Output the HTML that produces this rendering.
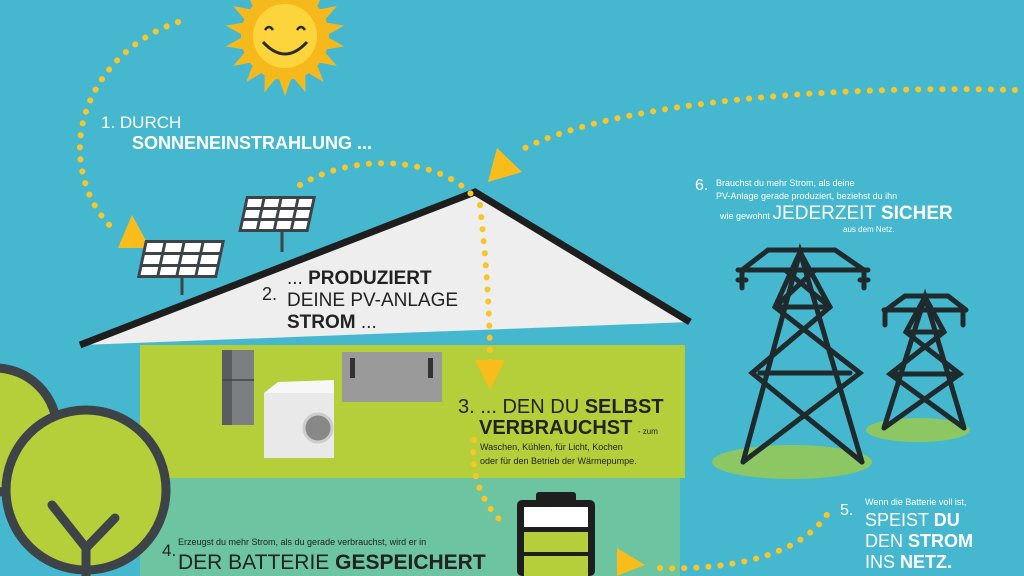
<!DOCTYPE html>
<html><head><meta charset="utf-8"><style>
html,body{margin:0;padding:0;width:1024px;height:576px;overflow:hidden;background:#45b8d0}
svg{display:block}
text{font-family:"Liberation Sans",sans-serif}
</style></head><body>
<svg width="1024" height="576" viewBox="0 0 1024 576" xmlns="http://www.w3.org/2000/svg">
<rect width="1024" height="576" fill="#45b8d0"/>
<rect x="140" y="345" width="545" height="133" fill="#b5cf3a"/>
<rect x="140" y="478" width="540" height="98" fill="#6cc4a0"/>
<polygon points="80,345 475,192 690,322" fill="#eeeeee"/>
<polyline points="80,345 475,192 690,322" fill="none" stroke="#1e1e1e" stroke-width="7"/>
<!-- trees -->
<circle cx="-5" cy="430" r="62" fill="#b5cf3a" stroke="#3d4347" stroke-width="9"/>
<circle cx="86" cy="490" r="80" fill="#b5cf3a" stroke="#3d4347" stroke-width="9"/>
<path d="M86,576 L86,548 L52,505 M86,548 L115,518" fill="none" stroke="#3d4347" stroke-width="9" stroke-linecap="round"/>
<!-- sun -->
<g transform="translate(285,36)">
<g fill="#f6b91c">
<circle r="44"/>
<polygon points="-7,-40 0,-60 7,-40" transform="rotate(0)"/><polygon points="-7,-40 0,-60 7,-40" transform="rotate(20)"/><polygon points="-7,-40 0,-60 7,-40" transform="rotate(40)"/><polygon points="-7,-40 0,-60 7,-40" transform="rotate(60)"/><polygon points="-7,-40 0,-60 7,-40" transform="rotate(80)"/><polygon points="-7,-40 0,-60 7,-40" transform="rotate(100)"/><polygon points="-7,-40 0,-60 7,-40" transform="rotate(120)"/><polygon points="-7,-40 0,-60 7,-40" transform="rotate(140)"/><polygon points="-7,-40 0,-60 7,-40" transform="rotate(160)"/><polygon points="-7,-40 0,-60 7,-40" transform="rotate(180)"/><polygon points="-7,-40 0,-60 7,-40" transform="rotate(200)"/><polygon points="-7,-40 0,-60 7,-40" transform="rotate(220)"/><polygon points="-7,-40 0,-60 7,-40" transform="rotate(240)"/><polygon points="-7,-40 0,-60 7,-40" transform="rotate(260)"/><polygon points="-7,-40 0,-60 7,-40" transform="rotate(280)"/><polygon points="-7,-40 0,-60 7,-40" transform="rotate(300)"/><polygon points="-7,-40 0,-60 7,-40" transform="rotate(320)"/><polygon points="-7,-40 0,-60 7,-40" transform="rotate(340)"/>
</g>
<circle r="32" fill="#fcd43c"/>
<path d="M-20,-6 q4,-6 8,0 M12,-6 q4,-6 8,0" stroke="#2a2a2a" stroke-width="2.5" fill="none"/>
<path d="M-22,6 q22,24 44,0" stroke="#2a2a2a" stroke-width="3" fill="none"/>
</g>
<g fill="none" stroke="#f6c62a" stroke-width="6" stroke-linecap="round" stroke-dasharray="0.1 12">
<path d="M178,22 C110,45 70,110 82,170 C88,200 100,215 112,228"/>
<path d="M300,185 C360,150 440,160 472,195"/>
<path d="M480,205 C486,260 490,310 490,365"/>
<path d="M474,440 C470,470 480,500 500,520"/>
<path d="M660,568 C720,570 800,560 830,510"/>
<path d="M1015,90 C850,85 620,100 525,148"/>
</g>
<g fill="#f8bd1a">
<polygon points="132,215 118,248 150,248"/>
<polygon points="497,148 522,172 488,182"/>
<polygon points="475,360 505,360 490,390"/>
<polygon points="617,548 617,576 645,565"/>
</g>
<g stroke="#3d4347" stroke-width="3">
<line x1="282" y1="230" x2="282" y2="252"/>
<line x1="182" y1="270" x2="182" y2="295"/>
</g>
<g transform="translate(246,196) skewX(-12)">
<rect x="0" y="0" width="70" height="36" fill="#3d4347"/>
<g fill="#fff">
<rect x="3" y="3" width="14" height="8"/><rect x="20" y="3" width="14" height="8"/><rect x="37" y="3" width="14" height="8"/><rect x="54" y="3" width="13" height="8"/>
<rect x="3" y="14" width="14" height="8"/><rect x="20" y="14" width="14" height="8"/><rect x="37" y="14" width="14" height="8"/><rect x="54" y="14" width="13" height="8"/>
<rect x="3" y="25" width="14" height="8"/><rect x="20" y="25" width="14" height="8"/><rect x="37" y="25" width="14" height="8"/><rect x="54" y="25" width="13" height="8"/>
</g></g>
<g transform="translate(145,240) skewX(-12)">
<rect x="0" y="0" width="80" height="38" fill="#3d4347"/>
<g fill="#fff">
<rect x="3" y="3" width="16" height="9"/><rect x="22" y="3" width="16" height="9"/><rect x="41" y="3" width="16" height="9"/><rect x="60" y="3" width="17" height="9"/>
<rect x="3" y="15" width="16" height="9"/><rect x="22" y="15" width="16" height="9"/><rect x="41" y="15" width="16" height="9"/><rect x="60" y="15" width="17" height="9"/>
<rect x="3" y="27" width="16" height="8"/><rect x="22" y="27" width="16" height="8"/><rect x="41" y="27" width="16" height="8"/><rect x="60" y="27" width="17" height="8"/>
</g></g>
<rect x="222" y="350" width="32" height="75" fill="#7c7f82"/>
<rect x="222" y="350" width="10" height="75" fill="#5a5d60"/>
<line x1="222" y1="380" x2="254" y2="380" stroke="#444" stroke-width="1.5"/>
<rect x="264" y="393" width="70" height="65" fill="#e9e9e9"/>
<polygon points="264,393 278,382 334,380 334,393" fill="#f7f7f7"/>
<circle cx="318" cy="428" r="14" fill="#888" stroke="#ccc" stroke-width="3"/>
<rect x="342" y="352" width="100" height="50" fill="#9a9a9a"/>
<rect x="350" y="358" width="5" height="20" fill="#333"/>
<rect x="428" y="358" width="5" height="20" fill="#333"/>
<rect x="536" y="492" width="40" height="12" rx="3" fill="#1e1e1e"/>
<rect x="517" y="500" width="78" height="76" rx="5" fill="#1e1e1e"/>
<rect x="524" y="507" width="64" height="20" fill="#fff"/>
<rect x="524" y="532" width="64" height="20" fill="#b5cf3a"/>
<rect x="524" y="556" width="64" height="20" fill="#b5cf3a"/>
<ellipse cx="792" cy="462" rx="80" ry="17" fill="#8dc763"/>
<ellipse cx="918" cy="430" rx="52" ry="12" fill="#8dc763"/>
<g stroke="#1e2a2c" stroke-width="5" fill="none" stroke-linecap="round">
<path d="M743,462 L800,252 L862,462"/>
<path d="M742,270 L768,250 L835,250 L864,270 M738,270 L868,270"/>
<path d="M775,307 L830,307 M760,373 L850,373"/>
<path d="M800,252 L775,307 L860,373 L743,462 M800,252 L830,307 L752,373 L862,462 M785,270 L830,307 M815,270 L775,307"/>
<path d="M742,272 L742,288 M738,280 L746,280 M864,272 L864,288 M860,280 L868,280"/>
<path d="M884,428 L925,297 L964,428"/>
<path d="M886,310 L905,296 L948,296 L966,310 M884,310 L966,310"/>
<path d="M906,332 L944,332 M896,374 L954,374"/>
<path d="M925,297 L906,332 L960,374 L884,428 M925,297 L944,332 L890,374 L964,428"/>
<path d="M885,312 L885,325 M963,312 L963,325"/>
</g>
<text x="101" y="128" font-size="17" fill="#fff">1. DURCH</text>
<text x="132" y="149" font-size="18" font-weight="bold" fill="#fff">SONNENEINSTRAHLUNG ...</text>
<text x="262" y="300" font-size="18" fill="#222">2.</text>
<text x="287" y="284" font-size="19" fill="#222">... <tspan font-weight="bold">PRODUZIERT</tspan></text>
<text x="287" y="306" font-size="19" fill="#222">DEINE PV-ANLAGE</text>
<text x="287" y="328" font-size="19" fill="#222" font-weight="bold">STROM <tspan font-weight="normal">...</tspan></text>
<text x="458" y="413" font-size="20" fill="#222">3. ... DEN DU <tspan font-weight="bold">SELBST</tspan></text>
<text x="479" y="434" font-size="20" fill="#222" font-weight="bold">VERBRAUCHST <tspan font-size="8" font-weight="normal">- zum</tspan></text>
<text x="480" y="450" font-size="9" fill="#222">Waschen, Kühlen, für Licht, Kochen</text>
<text x="480" y="464" font-size="9" fill="#222">oder für den Betrieb der Wärmepumpe.</text>
<text x="162" y="556" font-size="17" fill="#222">4.</text>
<text x="178" y="545" font-size="9" fill="#222">Erzeugst du mehr Strom, als du gerade verbrauchst, wird er in</text>
<text x="178" y="569" font-size="21" fill="#222">DER BATTERIE <tspan font-weight="bold">GESPEICHERT</tspan></text>
<text x="695" y="190" font-size="16" fill="#fff">6.</text>
<text x="716" y="186" font-size="9" fill="#fff">Brauchst du mehr Strom, als deine</text>
<text x="716" y="199" font-size="9" fill="#fff">PV-Anlage gerade produziert, beziehst du ihn</text>
<text x="720" y="219" font-size="9" fill="#fff">wie gewohnt <tspan font-size="19">JEDERZEIT </tspan><tspan font-size="19" font-weight="bold">SICHER</tspan></text>
<text x="843" y="232" font-size="8" fill="#fff">aus dem Netz.</text>
<text x="840" y="515" font-size="16" fill="#fff">5.</text>
<text x="865" y="505" font-size="9" fill="#fff">Wenn die Batterie voll ist,</text>
<text x="865" y="526" font-size="18" fill="#fff">SPEIST <tspan font-weight="bold">DU</tspan></text>
<text x="865" y="547" font-size="18" fill="#fff">DEN <tspan font-weight="bold">STROM</tspan></text>
<text x="865" y="568" font-size="18" fill="#fff">INS <tspan font-weight="bold">NETZ.</tspan></text>
</svg>
</body></html>
